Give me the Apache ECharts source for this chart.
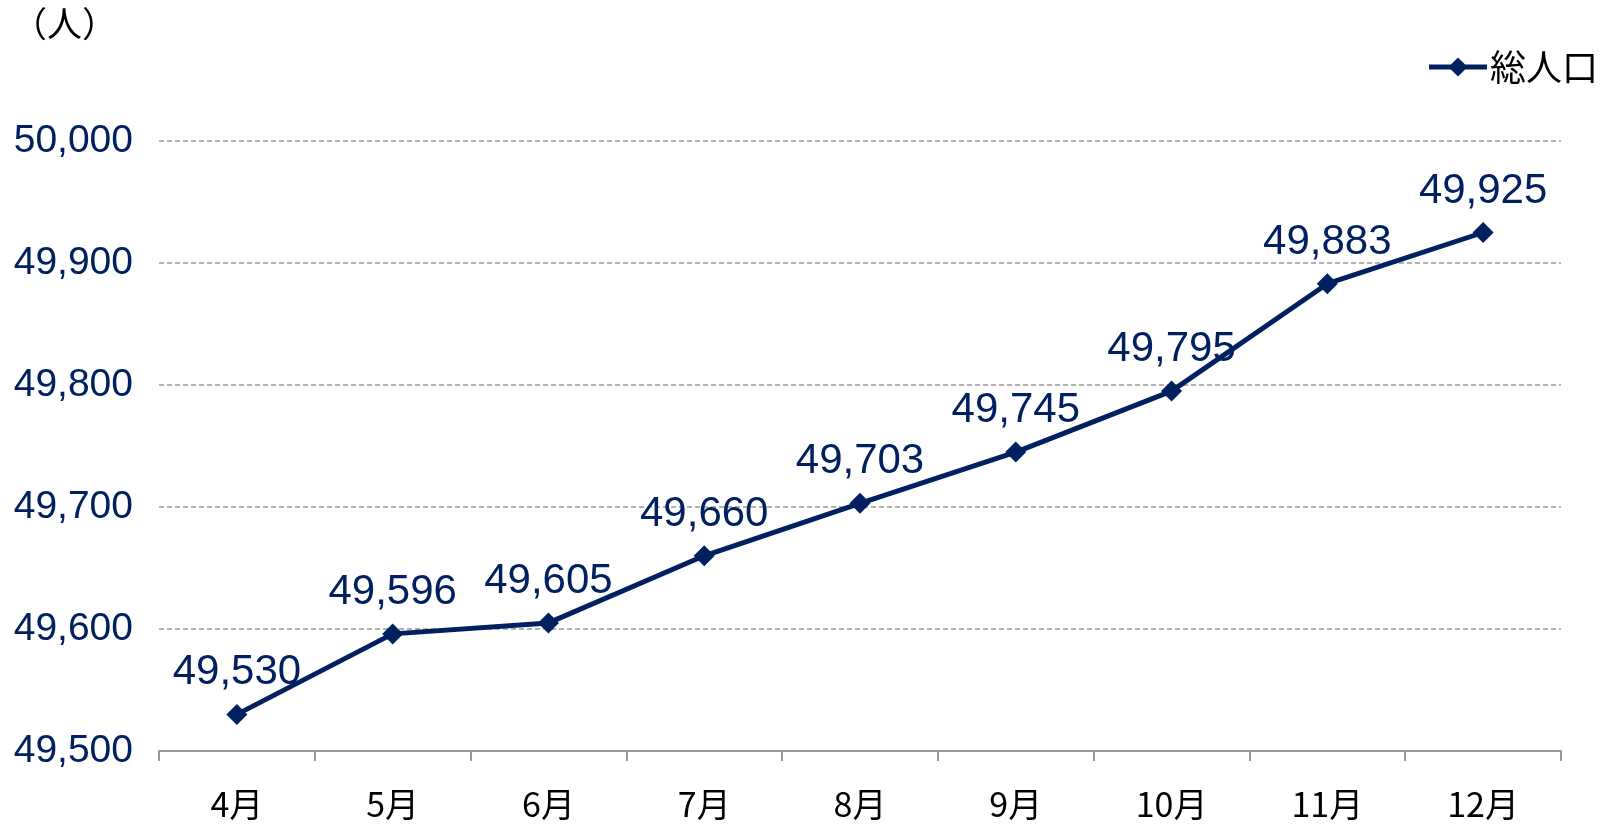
<!DOCTYPE html>
<html lang="ja">
  <head>
    <meta charset="UTF-8" />
    <title>総人口</title>
    <style>
      html, body { margin: 0; padding: 0; background: #fff; }
      #chart { width: 1607px; height: 824px; }
    </style>
  </head>
  <body>
    <div id="chart"></div>
    <script src="https://cdn.jsdelivr.net/npm/echarts@6/dist/echarts.min.js"></script>
    <script>
      const months = ["4月", "5月", "6月", "7月", "8月", "9月", "10月", "11月", "12月"];
      const population = [49530, 49596, 49605, 49660, 49703, 49745, 49795, 49883, 49925];
      const yTicks = [49500, 49600, 49700, 49800, 49900, 50000];

      const navy = "#002060";
      const fmt = (v) => v.toLocaleString("en-US");

      const myChart = echarts.init(document.querySelector("#chart"));
      const option = {
        animation: false,
        grid: { left: 159, right: 46, top: 141, bottom: 73 },
        graphic: [
          {
            type: "text",
            left: 12,
            top: 6,
            style: {
              text: "（人）",
              fontSize: 35,
              fontFamily: "Noto Sans CJK JP",
              fill: "#000"
            }
          }
        ],
        legend: {
          right: 4,
          top: 44,
          itemWidth: 58,
          itemHeight: 24,
          itemGap: 0,
          lineStyle: { width: 5 },
          textStyle: {
            fontSize: 36,
            fontFamily: "Noto Sans CJK JP",
            color: "#000",
            padding: [0, 0, 0, -2]
          },
          data: ["総人口"]
        },
        xAxis: {
          type: "category",
          data: months,
          axisLine: { lineStyle: { color: "#999", width: 2 } },
          axisTick: { show: true, length: 10, lineStyle: { color: "#999", width: 2 } },
          axisLabel: {
            margin: 36,
            fontSize: 34,
            fontFamily: "Noto Sans CJK JP",
            color: "#000"
          }
        },
        yAxis: {
          type: "value",
          min: yTicks[0],
          max: yTicks[yTicks.length - 1],
          interval: 100,
          axisLine: { show: false },
          axisTick: { show: false },
          splitLine: { lineStyle: { color: "#999", type: [5, 3], width: 1.5 } },
          axisLabel: {
            margin: 26,
            fontSize: 39,
            fontFamily: "Liberation Sans",
            color: navy,
            formatter: fmt
          }
        },
        series: [
          {
            name: "総人口",
            type: "line",
            data: population,
            symbol: "diamond",
            symbolSize: 21,
            lineStyle: { color: navy, width: 5 },
            itemStyle: { color: navy },
            label: {
              show: true,
              position: "top",
              distance: 10,
              fontSize: 42,
              fontFamily: "Liberation Sans",
              color: navy,
              formatter: (p) => fmt(p.value)
            }
          }
        ]
      };
      myChart.setOption(option);
    </script>
  </body>
</html>
